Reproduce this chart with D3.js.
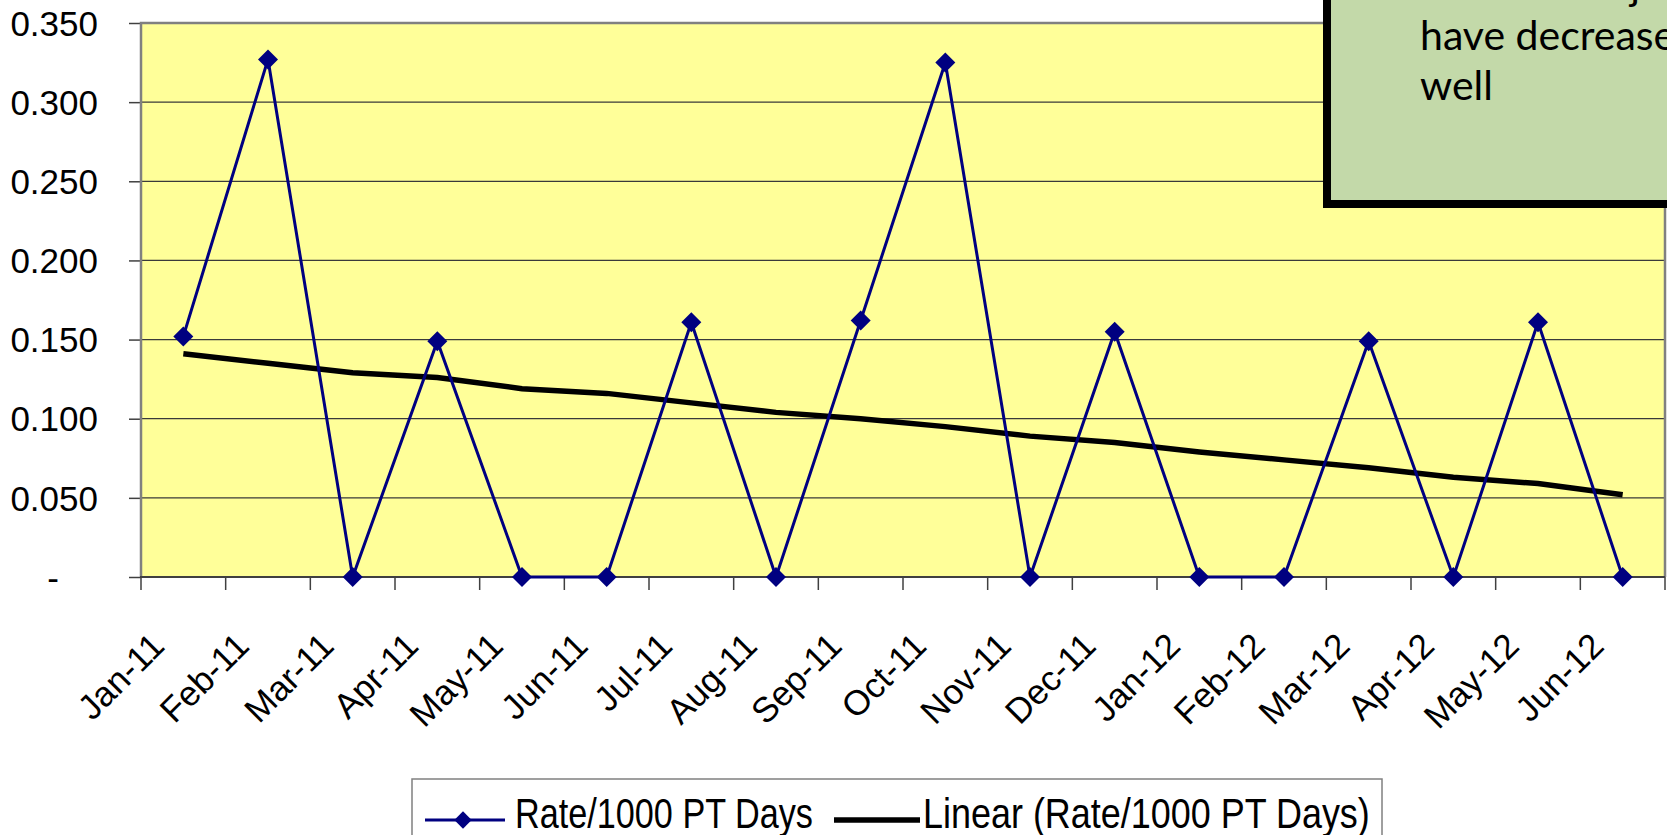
<!DOCTYPE html>
<html>
<head>
<meta charset="utf-8">
<script src="https://cdn.jsdelivr.net/npm/d3@7"></script>
<style>
    html, body { margin: 0; padding: 0; background: #ffffff; overflow: hidden; }
    svg { display: block; }
</style>
</head>
<body>
<div id="chart"></div>
<script>
// chart data
const months = ["Jan-11", "Feb-11", "Mar-11", "Apr-11", "May-11", "Jun-11",
                "Jul-11", "Aug-11", "Sep-11", "Oct-11", "Nov-11", "Dec-11",
                "Jan-12", "Feb-12", "Mar-12", "Apr-12", "May-12", "Jun-12"];
const rateValues = [0.152, 0.327, 0, 0.149, 0, 0,
                    0.161, 0, 0.162, 0.325, 0, 0.155,
                    0, 0, 0.149, 0, 0.161, 0];
// linear trendline as drawn by the spreadsheet
const trendValues = [0.141, 0.135, 0.129, 0.126, 0.119, 0.116,
                     0.110, 0.104, 0.100, 0.095, 0.089, 0.085,
                     0.079, 0.074, 0.069, 0.063, 0.059, 0.052];
const yTicks = [0, 0.05, 0.10, 0.15, 0.20, 0.25, 0.30, 0.35];
const seriesNames = ["Rate/1000 PT Days", "Linear (Rate/1000 PT Days)"];
const noteLines = ["Falls with injury", "have decreased as", "well"];

const width = 1667;
const height = 835;
const plot = { left: 141, right: 1665, top: 23, bottom: 577 };
const axisFont = "'Liberation Sans', Arial, sans-serif";

function drawChart() {
    const svg = d3.select("#chart").append("svg")
        .attr("width", width)
        .attr("height", height);

    const x = d3.scaleBand()
        .domain(months)
        .range([plot.left, plot.right]);
    const y = d3.scaleLinear()
        .domain([0, 0.35])
        .range([plot.bottom, plot.top]);
    const cx = d => x(d) + x.bandwidth() / 2;

    // plot background
    svg.append("rect")
        .attr("x", plot.left)
        .attr("y", plot.top)
        .attr("width", plot.right - plot.left)
        .attr("height", plot.bottom - plot.top)
        .attr("fill", "#ffff99");

    // horizontal gridlines
    svg.append("g")
        .selectAll("line")
        .data(yTicks.filter(t => t > 0 && t < 0.35))
        .join("line")
        .attr("x1", plot.left)
        .attr("x2", plot.right)
        .attr("y1", d => y(d))
        .attr("y2", d => y(d))
        .attr("stroke", "#3a3a3a")
        .attr("stroke-width", 1.3);

    // y axis ticks + labels
    const yAxis = d3.axisLeft(y)
        .tickValues(yTicks)
        .tickSize(12)
        .tickFormat(d => d === 0 ? "-" : d3.format(".3f")(d));
    const gy = svg.append("g")
        .attr("transform", `translate(${plot.left},0)`)
        .call(yAxis);
    gy.select(".domain").remove();
    gy.selectAll(".tick line").attr("stroke", "#404040").attr("stroke-width", 1.5);
    gy.selectAll(".tick text")
        .attr("x", d => d === 0 ? -82 : -43)
        .attr("dy", "0.35em")
        .style("font-family", axisFont)
        .style("font-size", "35px")
        .attr("fill", "#000");

    // plot frame (top, left, right in grey)
    svg.append("path")
        .attr("d", `M${plot.left},${plot.bottom}V${plot.top}H${plot.right}V${plot.bottom}`)
        .attr("fill", "none")
        .attr("stroke", "#808080")
        .attr("stroke-width", 2.5);

    // x axis with ticks on category boundaries
    const boundaries = months.map(m => x(m)).concat([plot.right]);
    svg.append("g")
        .selectAll("line")
        .data(boundaries)
        .join("line")
        .attr("x1", d => d)
        .attr("x2", d => d)
        .attr("y1", plot.bottom)
        .attr("y2", plot.bottom + 13)
        .attr("stroke", "#404040")
        .attr("stroke-width", 1.5);
    svg.append("line")
        .attr("x1", plot.left - 1)
        .attr("x2", plot.right)
        .attr("y1", plot.bottom)
        .attr("y2", plot.bottom)
        .attr("stroke", "#404040")
        .attr("stroke-width", 2.2);

    svg.append("g")
        .selectAll("text")
        .data(months)
        .join("text")
        .attr("transform", d => `translate(${cx(d) - 17},${plot.bottom + 71}) rotate(-45)`)
        .attr("text-anchor", "end")
        .style("font-family", axisFont)
        .style("font-size", "35px")
        .attr("fill", "#000")
        .text(d => d);

    // trendline
    const line = d3.line()
        .x((d, i) => cx(months[i]))
        .y(d => y(d));
    svg.append("path")
        .datum(trendValues)
        .attr("d", line)
        .attr("fill", "none")
        .attr("stroke", "#000")
        .attr("stroke-width", 5.5);

    // rate series
    svg.append("path")
        .datum(rateValues)
        .attr("d", line)
        .attr("fill", "none")
        .attr("stroke", "#000080")
        .attr("stroke-width", 3);

    const diamond = d3.symbol().type(d3.symbolSquare).size(200);
    svg.append("g")
        .selectAll("path")
        .data(rateValues)
        .join("path")
        .attr("d", diamond)
        .attr("transform", (d, i) => `translate(${cx(months[i])},${y(d)}) rotate(45)`)
        .attr("fill", "#000080");

    drawNote(svg);
    drawLegend(svg);
}

function drawNote(svg) {
    // green call-out box, runs off the top and right of the picture
    svg.append("rect")
        .attr("x", 1327)
        .attr("y", -30)
        .attr("width", 400)
        .attr("height", 234)
        .attr("fill", "#c3d9a9")
        .attr("stroke", "#000")
        .attr("stroke-width", 8);

    svg.append("g")
        .selectAll("text")
        .data(noteLines)
        .join("text")
        .attr("x", 1420)
        .attr("y", (d, i) => 0 + i * 50)
        .style("font-family", "Lato, 'Open Sans', sans-serif")
        .style("font-size", "41px")
        .attr("fill", "#000")
        .text(d => d);
}

function drawLegend(svg) {
    const lg = svg.append("g");
    lg.append("rect")
        .attr("x", 412)
        .attr("y", 779)
        .attr("width", 970)
        .attr("height", 90)
        .attr("fill", "#fff")
        .attr("stroke", "#808080")
        .attr("stroke-width", 1.5);

    const ly = 820;
    // series sample
    lg.append("line")
        .attr("x1", 425).attr("x2", 505)
        .attr("y1", ly).attr("y2", ly)
        .attr("stroke", "#000080")
        .attr("stroke-width", 3);
    lg.append("path")
        .attr("d", d3.symbol().type(d3.symbolSquare).size(150))
        .attr("transform", `translate(463,${ly}) rotate(45)`)
        .attr("fill", "#000080");
    // trend sample
    lg.append("line")
        .attr("x1", 834).attr("x2", 920)
        .attr("y1", ly).attr("y2", ly)
        .attr("stroke", "#000")
        .attr("stroke-width", 5.5);

    const textX = [515, 923];
    const textScale = [0.815, 0.856];
    lg.selectAll("text.legend")
        .data(seriesNames)
        .join("text")
        .attr("class", "legend")
        .attr("transform", (d, i) => `translate(${textX[i]},828) scale(${textScale[i]},1)`)
        .style("font-family", axisFont)
        .style("font-size", "42px")
        .attr("fill", "#000")
        .text(d => d);
}

drawChart();
</script>
</body>
</html>
